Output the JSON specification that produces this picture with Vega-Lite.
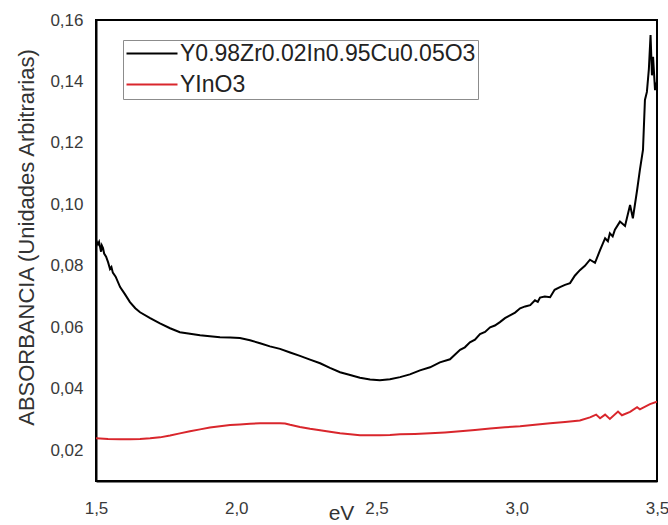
{
  "$schema": "https://vega.github.io/schema/vega-lite/v6.json",
  "autosize": "none",
  "width": 561,
  "height": 461,
  "padding": {"left": 96, "top": 20, "right": 11, "bottom": 44},
  "background": "white",
  "config": {
    "view": {"stroke": "#000000", "strokeWidth": 2},
    "font": "Liberation Sans"
  },
  "data": {
    "values": [
      {"x": 1.500, "y": 0.0884, "s": "Y0.98Zr0.02In0.95Cu0.05O3"},
      {"x": 1.507, "y": 0.0870, "s": "Y0.98Zr0.02In0.95Cu0.05O3"},
      {"x": 1.511, "y": 0.0878, "s": "Y0.98Zr0.02In0.95Cu0.05O3"},
      {"x": 1.518, "y": 0.0846, "s": "Y0.98Zr0.02In0.95Cu0.05O3"},
      {"x": 1.521, "y": 0.0866, "s": "Y0.98Zr0.02In0.95Cu0.05O3"},
      {"x": 1.525, "y": 0.0858, "s": "Y0.98Zr0.02In0.95Cu0.05O3"},
      {"x": 1.529, "y": 0.0840, "s": "Y0.98Zr0.02In0.95Cu0.05O3"},
      {"x": 1.536, "y": 0.0830, "s": "Y0.98Zr0.02In0.95Cu0.05O3"},
      {"x": 1.543, "y": 0.0812, "s": "Y0.98Zr0.02In0.95Cu0.05O3"},
      {"x": 1.550, "y": 0.0790, "s": "Y0.98Zr0.02In0.95Cu0.05O3"},
      {"x": 1.555, "y": 0.0796, "s": "Y0.98Zr0.02In0.95Cu0.05O3"},
      {"x": 1.560, "y": 0.0778, "s": "Y0.98Zr0.02In0.95Cu0.05O3"},
      {"x": 1.570, "y": 0.0765, "s": "Y0.98Zr0.02In0.95Cu0.05O3"},
      {"x": 1.586, "y": 0.0731, "s": "Y0.98Zr0.02In0.95Cu0.05O3"},
      {"x": 1.603, "y": 0.0708, "s": "Y0.98Zr0.02In0.95Cu0.05O3"},
      {"x": 1.621, "y": 0.0682, "s": "Y0.98Zr0.02In0.95Cu0.05O3"},
      {"x": 1.640, "y": 0.0662, "s": "Y0.98Zr0.02In0.95Cu0.05O3"},
      {"x": 1.657, "y": 0.0649, "s": "Y0.98Zr0.02In0.95Cu0.05O3"},
      {"x": 1.693, "y": 0.0630, "s": "Y0.98Zr0.02In0.95Cu0.05O3"},
      {"x": 1.728, "y": 0.0613, "s": "Y0.98Zr0.02In0.95Cu0.05O3"},
      {"x": 1.764, "y": 0.0597, "s": "Y0.98Zr0.02In0.95Cu0.05O3"},
      {"x": 1.799, "y": 0.0584, "s": "Y0.98Zr0.02In0.95Cu0.05O3"},
      {"x": 1.835, "y": 0.0579, "s": "Y0.98Zr0.02In0.95Cu0.05O3"},
      {"x": 1.871, "y": 0.0574, "s": "Y0.98Zr0.02In0.95Cu0.05O3"},
      {"x": 1.906, "y": 0.0571, "s": "Y0.98Zr0.02In0.95Cu0.05O3"},
      {"x": 1.942, "y": 0.0568, "s": "Y0.98Zr0.02In0.95Cu0.05O3"},
      {"x": 1.978, "y": 0.0567, "s": "Y0.98Zr0.02In0.95Cu0.05O3"},
      {"x": 2.013, "y": 0.0565, "s": "Y0.98Zr0.02In0.95Cu0.05O3"},
      {"x": 2.049, "y": 0.0558, "s": "Y0.98Zr0.02In0.95Cu0.05O3"},
      {"x": 2.085, "y": 0.0548, "s": "Y0.98Zr0.02In0.95Cu0.05O3"},
      {"x": 2.120, "y": 0.0538, "s": "Y0.98Zr0.02In0.95Cu0.05O3"},
      {"x": 2.156, "y": 0.0530, "s": "Y0.98Zr0.02In0.95Cu0.05O3"},
      {"x": 2.192, "y": 0.0518, "s": "Y0.98Zr0.02In0.95Cu0.05O3"},
      {"x": 2.227, "y": 0.0507, "s": "Y0.98Zr0.02In0.95Cu0.05O3"},
      {"x": 2.263, "y": 0.0495, "s": "Y0.98Zr0.02In0.95Cu0.05O3"},
      {"x": 2.299, "y": 0.0483, "s": "Y0.98Zr0.02In0.95Cu0.05O3"},
      {"x": 2.334, "y": 0.0468, "s": "Y0.98Zr0.02In0.95Cu0.05O3"},
      {"x": 2.370, "y": 0.0454, "s": "Y0.98Zr0.02In0.95Cu0.05O3"},
      {"x": 2.406, "y": 0.0445, "s": "Y0.98Zr0.02In0.95Cu0.05O3"},
      {"x": 2.441, "y": 0.0436, "s": "Y0.98Zr0.02In0.95Cu0.05O3"},
      {"x": 2.477, "y": 0.0430, "s": "Y0.98Zr0.02In0.95Cu0.05O3"},
      {"x": 2.512, "y": 0.0428, "s": "Y0.98Zr0.02In0.95Cu0.05O3"},
      {"x": 2.548, "y": 0.0431, "s": "Y0.98Zr0.02In0.95Cu0.05O3"},
      {"x": 2.584, "y": 0.0438, "s": "Y0.98Zr0.02In0.95Cu0.05O3"},
      {"x": 2.619, "y": 0.0447, "s": "Y0.98Zr0.02In0.95Cu0.05O3"},
      {"x": 2.655, "y": 0.0460, "s": "Y0.98Zr0.02In0.95Cu0.05O3"},
      {"x": 2.691, "y": 0.0470, "s": "Y0.98Zr0.02In0.95Cu0.05O3"},
      {"x": 2.726, "y": 0.0486, "s": "Y0.98Zr0.02In0.95Cu0.05O3"},
      {"x": 2.762, "y": 0.0496, "s": "Y0.98Zr0.02In0.95Cu0.05O3"},
      {"x": 2.798, "y": 0.0527, "s": "Y0.98Zr0.02In0.95Cu0.05O3"},
      {"x": 2.815, "y": 0.0535, "s": "Y0.98Zr0.02In0.95Cu0.05O3"},
      {"x": 2.833, "y": 0.0551, "s": "Y0.98Zr0.02In0.95Cu0.05O3"},
      {"x": 2.851, "y": 0.0560, "s": "Y0.98Zr0.02In0.95Cu0.05O3"},
      {"x": 2.869, "y": 0.0578, "s": "Y0.98Zr0.02In0.95Cu0.05O3"},
      {"x": 2.887, "y": 0.0585, "s": "Y0.98Zr0.02In0.95Cu0.05O3"},
      {"x": 2.905, "y": 0.0600, "s": "Y0.98Zr0.02In0.95Cu0.05O3"},
      {"x": 2.922, "y": 0.0606, "s": "Y0.98Zr0.02In0.95Cu0.05O3"},
      {"x": 2.940, "y": 0.0617, "s": "Y0.98Zr0.02In0.95Cu0.05O3"},
      {"x": 2.958, "y": 0.0630, "s": "Y0.98Zr0.02In0.95Cu0.05O3"},
      {"x": 2.976, "y": 0.0639, "s": "Y0.98Zr0.02In0.95Cu0.05O3"},
      {"x": 2.994, "y": 0.0648, "s": "Y0.98Zr0.02In0.95Cu0.05O3"},
      {"x": 3.012, "y": 0.0662, "s": "Y0.98Zr0.02In0.95Cu0.05O3"},
      {"x": 3.030, "y": 0.0668, "s": "Y0.98Zr0.02In0.95Cu0.05O3"},
      {"x": 3.048, "y": 0.0672, "s": "Y0.98Zr0.02In0.95Cu0.05O3"},
      {"x": 3.065, "y": 0.0688, "s": "Y0.98Zr0.02In0.95Cu0.05O3"},
      {"x": 3.075, "y": 0.0683, "s": "Y0.98Zr0.02In0.95Cu0.05O3"},
      {"x": 3.083, "y": 0.0697, "s": "Y0.98Zr0.02In0.95Cu0.05O3"},
      {"x": 3.100, "y": 0.0700, "s": "Y0.98Zr0.02In0.95Cu0.05O3"},
      {"x": 3.119, "y": 0.0698, "s": "Y0.98Zr0.02In0.95Cu0.05O3"},
      {"x": 3.135, "y": 0.0722, "s": "Y0.98Zr0.02In0.95Cu0.05O3"},
      {"x": 3.154, "y": 0.0731, "s": "Y0.98Zr0.02In0.95Cu0.05O3"},
      {"x": 3.172, "y": 0.0738, "s": "Y0.98Zr0.02In0.95Cu0.05O3"},
      {"x": 3.190, "y": 0.0744, "s": "Y0.98Zr0.02In0.95Cu0.05O3"},
      {"x": 3.207, "y": 0.0768, "s": "Y0.98Zr0.02In0.95Cu0.05O3"},
      {"x": 3.225, "y": 0.0786, "s": "Y0.98Zr0.02In0.95Cu0.05O3"},
      {"x": 3.243, "y": 0.0800, "s": "Y0.98Zr0.02In0.95Cu0.05O3"},
      {"x": 3.261, "y": 0.0820, "s": "Y0.98Zr0.02In0.95Cu0.05O3"},
      {"x": 3.279, "y": 0.0810, "s": "Y0.98Zr0.02In0.95Cu0.05O3"},
      {"x": 3.297, "y": 0.0851, "s": "Y0.98Zr0.02In0.95Cu0.05O3"},
      {"x": 3.315, "y": 0.0890, "s": "Y0.98Zr0.02In0.95Cu0.05O3"},
      {"x": 3.325, "y": 0.0880, "s": "Y0.98Zr0.02In0.95Cu0.05O3"},
      {"x": 3.332, "y": 0.0906, "s": "Y0.98Zr0.02In0.95Cu0.05O3"},
      {"x": 3.342, "y": 0.0896, "s": "Y0.98Zr0.02In0.95Cu0.05O3"},
      {"x": 3.350, "y": 0.0918, "s": "Y0.98Zr0.02In0.95Cu0.05O3"},
      {"x": 3.368, "y": 0.0944, "s": "Y0.98Zr0.02In0.95Cu0.05O3"},
      {"x": 3.386, "y": 0.0930, "s": "Y0.98Zr0.02In0.95Cu0.05O3"},
      {"x": 3.404, "y": 0.0998, "s": "Y0.98Zr0.02In0.95Cu0.05O3"},
      {"x": 3.414, "y": 0.0955, "s": "Y0.98Zr0.02In0.95Cu0.05O3"},
      {"x": 3.429, "y": 0.1046, "s": "Y0.98Zr0.02In0.95Cu0.05O3"},
      {"x": 3.439, "y": 0.1112, "s": "Y0.98Zr0.02In0.95Cu0.05O3"},
      {"x": 3.450, "y": 0.1177, "s": "Y0.98Zr0.02In0.95Cu0.05O3"},
      {"x": 3.457, "y": 0.1340, "s": "Y0.98Zr0.02In0.95Cu0.05O3"},
      {"x": 3.464, "y": 0.1366, "s": "Y0.98Zr0.02In0.95Cu0.05O3"},
      {"x": 3.471, "y": 0.1440, "s": "Y0.98Zr0.02In0.95Cu0.05O3"},
      {"x": 3.477, "y": 0.1551, "s": "Y0.98Zr0.02In0.95Cu0.05O3"},
      {"x": 3.482, "y": 0.1420, "s": "Y0.98Zr0.02In0.95Cu0.05O3"},
      {"x": 3.486, "y": 0.1480, "s": "Y0.98Zr0.02In0.95Cu0.05O3"},
      {"x": 3.493, "y": 0.1372, "s": "Y0.98Zr0.02In0.95Cu0.05O3"},
      {"x": 3.500, "y": 0.1400, "s": "Y0.98Zr0.02In0.95Cu0.05O3"},

      {"x": 1.500, "y": 0.0239, "s": "YInO3"},
      {"x": 1.543, "y": 0.0237, "s": "YInO3"},
      {"x": 1.586, "y": 0.0236, "s": "YInO3"},
      {"x": 1.622, "y": 0.0236, "s": "YInO3"},
      {"x": 1.657, "y": 0.0237, "s": "YInO3"},
      {"x": 1.693, "y": 0.0239, "s": "YInO3"},
      {"x": 1.728, "y": 0.0242, "s": "YInO3"},
      {"x": 1.764, "y": 0.0248, "s": "YInO3"},
      {"x": 1.799, "y": 0.0255, "s": "YInO3"},
      {"x": 1.835, "y": 0.0262, "s": "YInO3"},
      {"x": 1.871, "y": 0.0268, "s": "YInO3"},
      {"x": 1.906, "y": 0.0274, "s": "YInO3"},
      {"x": 1.942, "y": 0.0278, "s": "YInO3"},
      {"x": 1.978, "y": 0.0282, "s": "YInO3"},
      {"x": 2.013, "y": 0.0284, "s": "YInO3"},
      {"x": 2.049, "y": 0.0286, "s": "YInO3"},
      {"x": 2.085, "y": 0.0288, "s": "YInO3"},
      {"x": 2.120, "y": 0.0288, "s": "YInO3"},
      {"x": 2.156, "y": 0.0288, "s": "YInO3"},
      {"x": 2.174, "y": 0.0287, "s": "YInO3"},
      {"x": 2.192, "y": 0.0283, "s": "YInO3"},
      {"x": 2.227, "y": 0.0276, "s": "YInO3"},
      {"x": 2.263, "y": 0.0270, "s": "YInO3"},
      {"x": 2.299, "y": 0.0265, "s": "YInO3"},
      {"x": 2.334, "y": 0.0260, "s": "YInO3"},
      {"x": 2.370, "y": 0.0255, "s": "YInO3"},
      {"x": 2.406, "y": 0.0252, "s": "YInO3"},
      {"x": 2.441, "y": 0.0249, "s": "YInO3"},
      {"x": 2.477, "y": 0.0249, "s": "YInO3"},
      {"x": 2.512, "y": 0.0249, "s": "YInO3"},
      {"x": 2.548, "y": 0.0250, "s": "YInO3"},
      {"x": 2.584, "y": 0.0252, "s": "YInO3"},
      {"x": 2.637, "y": 0.0253, "s": "YInO3"},
      {"x": 2.691, "y": 0.0255, "s": "YInO3"},
      {"x": 2.744, "y": 0.0258, "s": "YInO3"},
      {"x": 2.798, "y": 0.0262, "s": "YInO3"},
      {"x": 2.851, "y": 0.0266, "s": "YInO3"},
      {"x": 2.905, "y": 0.0271, "s": "YInO3"},
      {"x": 2.958, "y": 0.0275, "s": "YInO3"},
      {"x": 3.012, "y": 0.0278, "s": "YInO3"},
      {"x": 3.065, "y": 0.0283, "s": "YInO3"},
      {"x": 3.119, "y": 0.0288, "s": "YInO3"},
      {"x": 3.172, "y": 0.0292, "s": "YInO3"},
      {"x": 3.225, "y": 0.0297, "s": "YInO3"},
      {"x": 3.261, "y": 0.0307, "s": "YInO3"},
      {"x": 3.283, "y": 0.0316, "s": "YInO3"},
      {"x": 3.297, "y": 0.0304, "s": "YInO3"},
      {"x": 3.315, "y": 0.0316, "s": "YInO3"},
      {"x": 3.332, "y": 0.0302, "s": "YInO3"},
      {"x": 3.361, "y": 0.0326, "s": "YInO3"},
      {"x": 3.375, "y": 0.0314, "s": "YInO3"},
      {"x": 3.404, "y": 0.0325, "s": "YInO3"},
      {"x": 3.429, "y": 0.0340, "s": "YInO3"},
      {"x": 3.439, "y": 0.0333, "s": "YInO3"},
      {"x": 3.475, "y": 0.0350, "s": "YInO3"},
      {"x": 3.500, "y": 0.0358, "s": "YInO3"}
    ]
  },
  "mark": {"type": "line", "strokeWidth": 2, "clip": true},
  "encoding": {
    "x": {
      "field": "x",
      "type": "quantitative",
      "scale": {"domain": [1.5, 3.5], "nice": false, "zero": false},
      "axis": {
        "values": [1.5, 2.0, 2.5, 3.0, 3.5],
        "labelExpr": "replace(format(datum.value, '.1f'), '.', ',')",
        "ticks": false,
        "grid": false,
        "domainColor": "#000000",
        "domainWidth": 2,
        "labelFontSize": 17,
        "labelColor": "#3a3a3a",
        "labelPadding": 19,
        "labelFlush": false,
        "title": "eV",
        "titleFontSize": 21,
        "titleFontWeight": "normal",
        "titleColor": "#333333",
        "titleX": 245,
        "titleY": 38,
        "titleAlign": "center",
        "titleBaseline": "alphabetic"
      }
    },
    "y": {
      "field": "y",
      "type": "quantitative",
      "scale": {"domain": [0.01, 0.16], "nice": false, "zero": false},
      "axis": {
        "values": [0.02, 0.04, 0.06, 0.08, 0.10, 0.12, 0.14, 0.16],
        "labelExpr": "replace(format(datum.value, '.2f'), '.', ',')",
        "ticks": false,
        "grid": false,
        "domainColor": "#000000",
        "domainWidth": 2,
        "labelFontSize": 17,
        "labelColor": "#3a3a3a",
        "labelPadding": 13,
        "labelFlush": false,
        "title": "ABSORBANCIA (Unidades Arbitrarias)",
        "titleFontSize": 22,
        "titleFontWeight": "normal",
        "titleColor": "#333333",
        "titleX": -63,
        "titleY": 217,
        "titleAlign": "center",
        "titleBaseline": "alphabetic",
        "titleAngle": -90
      }
    },
    "color": {
      "field": "s",
      "type": "nominal",
      "scale": {
        "domain": ["Y0.98Zr0.02In0.95Cu0.05O3", "YInO3"],
        "range": ["#000000", "#d9262c"]
      },
      "legend": {
        "title": null,
        "orient": "none",
        "legendX": 27,
        "legendY": 20,
        "direction": "vertical",
        "fillColor": "#ffffff",
        "strokeColor": "#8c8c8c",
        "padding": 2,
        "symbolType": "M-1,0H4.1",
        "symbolSize": 400,
        "symbolStrokeWidth": 2,
        "symbolOffset": 0,
        "labelFontSize": 23,
        "labelColor": "#222222",
        "labelLimit": 500,
        "labelOffset": 32,
        "rowPadding": 7
      }
    }
  }
}
